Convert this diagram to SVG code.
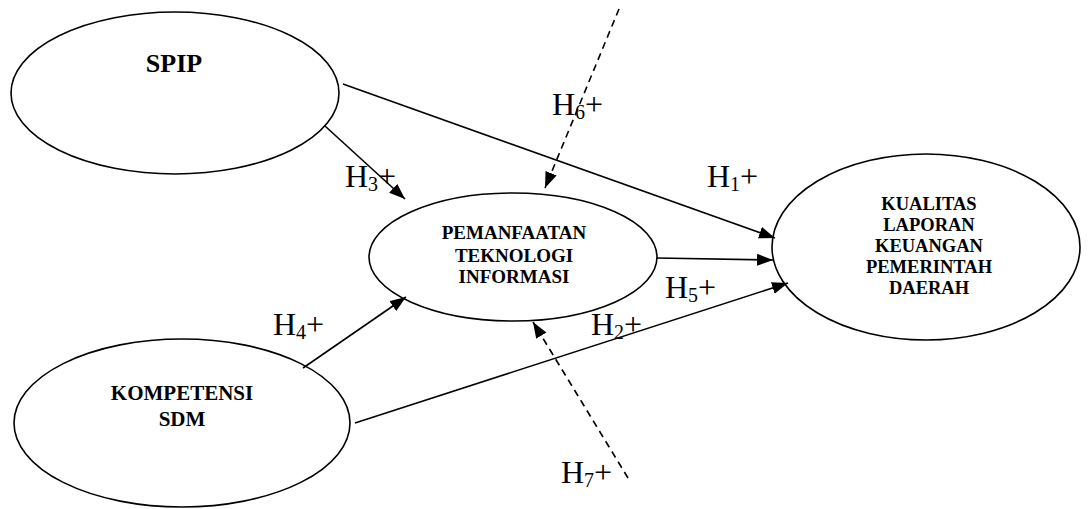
<svg xmlns="http://www.w3.org/2000/svg" width="1088" height="509" viewBox="0 0 1088 509">
<style>
.node{fill:#fff;stroke:#000;stroke-width:1.6}
.t{font-family:"Liberation Serif","Times New Roman",serif;font-weight:bold;fill:#000;text-anchor:middle}
.lbl{font-family:"Liberation Serif","Times New Roman",serif;font-size:32px;fill:#000}
.sub{font-size:20px}
.c{fill:none;stroke:#000;stroke-width:1.6;marker-end:url(#ah)}
.d{stroke-dasharray:7 5}
</style>
<defs>
<marker id="ah" markerUnits="userSpaceOnUse" markerWidth="17" markerHeight="13" refX="16" refY="6" orient="auto">
<path d="M0,0 L16,6 L0,12 z" fill="#000"/>
</marker>
</defs>
<rect width="1088" height="509" fill="#fff"/>
<g id="spip">
<ellipse class="node" cx="175" cy="93" rx="164" ry="81"/>
<text class="t" x="174" y="72" font-size="26">SPIP</text>
</g>
<g id="kompetensi">
<ellipse class="node" cx="182" cy="423" rx="168" ry="84"/>
<text class="t" x="182" y="400" font-size="21">KOMPETENSI</text>
<text class="t" x="182" y="426" font-size="21">SDM</text>
</g>
<g id="pemanfaatan">
<ellipse class="node" cx="513" cy="257" rx="144" ry="64"/>
<text class="t" x="514" y="239" font-size="19">PEMANFAATAN</text>
<text class="t" x="514" y="262" font-size="19">TEKNOLOGI</text>
<text class="t" x="514" y="283" font-size="19">INFORMASI</text>
</g>
<g id="kualitas">
<ellipse class="node" cx="926" cy="247" rx="154" ry="93"/>
<text class="t" x="929" y="210" font-size="18.5">KUALITAS</text>
<text class="t" x="929" y="231" font-size="18.5">LAPORAN</text>
<text class="t" x="929" y="252" font-size="18.5">KEUANGAN</text>
<text class="t" x="929" y="273" font-size="18.5">PEMERINTAH</text>
<text class="t" x="929" y="294" font-size="18.5">DAERAH</text>
</g>
<g id="connectors">
<line class="c" x1="343" y1="84" x2="775" y2="238"/>
<line class="c" x1="325" y1="126" x2="405" y2="199"/>
<line class="c d" x1="619" y1="9" x2="545" y2="188"/>
<line class="c" x1="657" y1="258" x2="773" y2="260"/>
<line class="c" x1="355" y1="423" x2="788" y2="283"/>
<line class="c" x1="303" y1="368" x2="406" y2="297"/>
<line class="c d" x1="628" y1="478" x2="533" y2="322"/>
</g>
<g id="labels">
<text class="lbl" x="552" y="115">H<tspan class="sub" dy="4">6</tspan><tspan dy="-4">+</tspan></text>
<text class="lbl" x="345" y="187">H<tspan class="sub" dy="4">3</tspan><tspan dy="-4">+</tspan></text>
<text class="lbl" x="707" y="187">H<tspan class="sub" dy="4">1</tspan><tspan dy="-4">+</tspan></text>
<text class="lbl" x="273" y="335">H<tspan class="sub" dy="4">4</tspan><tspan dy="-4">+</tspan></text>
<text class="lbl" x="665" y="298">H<tspan class="sub" dy="4">5</tspan><tspan dy="-4">+</tspan></text>
<text class="lbl" x="591" y="335">H<tspan class="sub" dy="4">2</tspan><tspan dy="-4">+</tspan></text>
<text class="lbl" x="561" y="483">H<tspan class="sub" dy="4">7</tspan><tspan dy="-4">+</tspan></text>
</g>
</svg>
